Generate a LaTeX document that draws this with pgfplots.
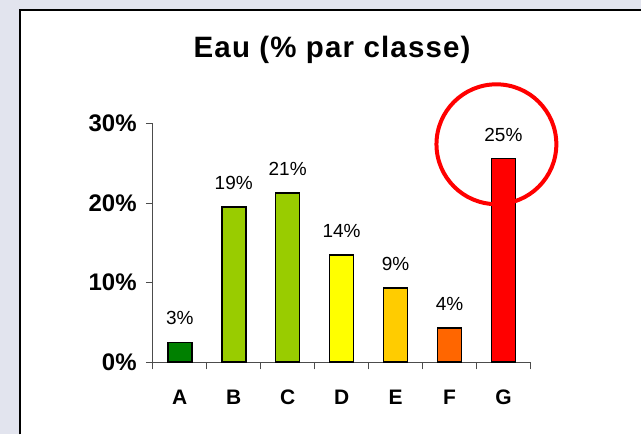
\documentclass[border=0pt]{standalone}
\usepackage{pgfplots}
\pgfplotsset{compat=1.18}
\usepackage{fontspec}
\setmainfont{Liberation Sans}
\definecolor{bgtex}{RGB}{226,228,238}
\definecolor{cA}{RGB}{0,128,0}
\definecolor{cB}{RGB}{153,204,0}
\definecolor{cD}{RGB}{255,255,0}
\definecolor{cE}{RGB}{255,204,0}
\definecolor{cF}{RGB}{255,102,0}
\definecolor{cG}{RGB}{255,0,0}
\begin{document}
\begin{tikzpicture}
% frame of the slide
\fill[bgtex] (0pt,0pt) rectangle (642pt,-435pt);
\fill[white] (20pt,-10pt) rectangle (642pt,-435pt);
\draw[black,line width=1.5pt] (20pt,-435pt) -- (20pt,-10pt) -- (642pt,-10pt);
\node[anchor=base,font=\fontsize{29.5}{32}\selectfont\bfseries\addfontfeature{LetterSpace=4}] at (332.5pt,-58pt) {Eau (\% par classe)};
\begin{axis}[
  at={(153pt,-362.7pt)},anchor=south west,
  scale only axis,width=378pt,height=239pt,
  xmin=-0.5,xmax=6.5,ymin=0,ymax=30,
  axis x line=bottom,axis y line=left,
  axis line style={-,black!70,line width=1pt},
  ybar,bar width=24pt,bar shift=0pt,
  clip=false,
  tick align=outside,
  xtick={0,1,2,3,4,5,6},xticklabels={A,B,C,D,E,F,G},
  major x tick style={draw=none},
  minor xtick={-0.5,0.5,1.5,2.5,3.5,4.5,5.5,6.5},
  minor tick length=7pt,
  minor tick style={black!70,line width=1pt},
  ytick={0,10,20,30},yticklabels={0\%,10\%,20\%,30\%},
  major tick length=7pt,
  major y tick style={black!70,line width=1pt},
  yticklabel style={font=\fontsize{24}{26}\selectfont\bfseries,anchor=east,inner sep=0pt,xshift=-9pt},
  xticklabel style={font=\fontsize{21}{24}\selectfont\bfseries,anchor=base,inner sep=0pt,yshift=-35pt},
  every axis plot/.append style={draw=black,line width=1.6pt},
  nodes near coords,point meta=explicit symbolic,
  every node near coord/.append style={font=\fontsize{19}{22}\selectfont,anchor=base,inner sep=0pt,yshift=17.5pt},
]
\addplot[fill=cA] coordinates {(0,2.5) [3\%]};
\addplot[fill=cB] coordinates {(1,19.5) [19\%]};
\addplot[fill=cB] coordinates {(2,21.3) [21\%]};
\addplot[fill=cD] coordinates {(3,13.5) [14\%]};
\addplot[fill=cE] coordinates {(4,9.3) [9\%]};
\addplot[fill=cF] coordinates {(5,4.3) [4\%]};
\addplot[fill=cG] coordinates {(6,25.6) [25\%]};
\draw[cG,line width=4pt] (axis cs:5.87,27.4) circle [radius=60pt];
\end{axis}
\end{tikzpicture}
\end{document}
